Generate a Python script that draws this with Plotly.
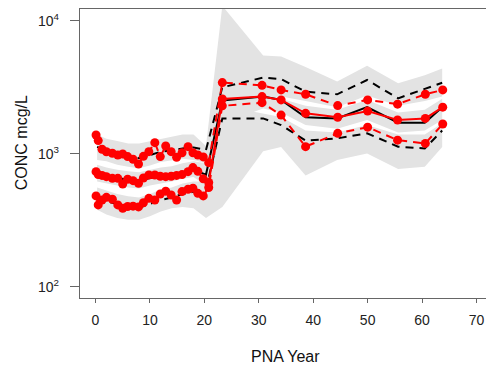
import plotly.graph_objects as go

# Observed concentration percentiles (5th, 50th, 95th) per PNA bin
obs_x = [0.1, 0.5, 1.2, 2.0, 3.1, 4.1, 5.0, 5.9, 6.9, 7.9, 8.8, 9.8, 10.9, 11.9,
         12.9, 13.9, 14.9, 15.9, 17.0, 17.9, 18.8, 19.8, 20.8,
         23.3, 30.6, 34.1, 38.6, 44.5, 50.0, 55.5, 60.6, 63.8]
obs_p95 = [1390, 1260, 1085, 1040, 1012, 983, 1000, 955, 912, 841, 960, 1041, 1216, 955,
           1148, 1041, 945, 1022, 1135, 1022, 983, 950, 860,
           3440, 3280, 3030, 2810, 2310, 2550, 2370, 2810, 3030]
obs_p50 = [736, 700, 690, 675, 656, 656, 595, 645, 630, 602, 660, 695, 695, 680,
           675, 680, 690, 700, 736, 790, 740, 650, 610,
           2590, 2700, 2550, 2020, 1890, 2100, 1800, 1850, 2250]
obs_p05 = [484, 414, 450, 472, 457, 414, 391, 403, 405, 400, 430, 464, 451, 500,
           525, 491, 451, 521, 543, 553, 506, 484, 560,
           2300, 2430, 1960, 1135, 1430, 1590, 1270, 1200, 1680]

# Simulated percentiles (median of simulations) per bin
sim_x = [0.3, 2, 4, 6, 8, 10, 12, 14, 16, 18, 20.3,
         23.3, 30.8, 34.1, 38.6, 44.4, 49.9, 55.6, 60.5, 63.7]
sim_p95 = [1130, 1060, 1000, 960, 930, 980, 1040, 1060, 1100, 1120, 1070,
           3170, 3750, 3650, 2940, 2810, 3600, 2620, 3060, 3430]
sim_p50 = [720, 690, 660, 640, 630, 660, 680, 700, 730, 760, 700,
           2520, 2700, 2550, 1890, 1850, 2250, 1720, 1720, 2250]
sim_p05 = [470, 440, 420, 400, 395, 420, 450, 470, 500, 520, 540,
           1850, 1850, 1650, 1260, 1310, 1430, 1135, 1100, 1500]

# Confidence intervals of the simulated percentiles
ci95_hi = [1400, 1300, 1250, 1200, 1200, 1250, 1300, 1350, 1400, 1400, 1150,
           13000, 5500, 5400, 4500, 3500, 4600, 3400, 3900, 4400]
ci95_lo = [900, 880, 830, 800, 780, 820, 870, 900, 920, 900, 850,
           2200, 2750, 2700, 2500, 2250, 2750, 2300, 2500, 2700]
ci50_hi = [830, 790, 760, 740, 730, 760, 790, 810, 850, 880, 850,
           3300, 3100, 2600, 2300, 2150, 2550, 2050, 2150, 2600]
ci50_lo = [620, 600, 580, 560, 550, 580, 600, 620, 650, 670, 580,
           1700, 2200, 2050, 1650, 1550, 1800, 1450, 1500, 1800]
ci05_hi = [560, 530, 500, 480, 470, 500, 540, 560, 600, 620, 620,
           2300, 2000, 1900, 1500, 1450, 1650, 1400, 1400, 1700]
ci05_lo = [380, 350, 330, 320, 320, 340, 370, 390, 400, 390, 330,
           400, 1050, 1130, 690, 900, 1010, 770, 800, 1130]

y_ticks = [100, 1000, 10000]
y_tick_text = ["10<sup>2</sup>", "10<sup>3</sup>", "10<sup>4</sup>"]
y_minor = [v * m for m in (100, 1000) for v in range(2, 10)]
x_ticks = [0, 10, 20, 30, 40, 50, 60, 70]

BAND = "#e3e3e3"
RED = "#ff0000"
AXIS = "#666"
FONT = "Liberation Sans, Arial, sans-serif"
X_RANGE = [-2.85, 71.75]
Y_RANGE = [1.917, 4.09]   # log10 limits of the concentration axis
PX_PER_X = 406 / (X_RANGE[1] - X_RANGE[0])

fig = go.Figure()

# shaded confidence bands
for lo, hi in ((ci95_lo, ci95_hi), (ci50_lo, ci50_hi), (ci05_lo, ci05_hi)):
    fig.add_trace(go.Scatter(
        x=sim_x + sim_x[::-1], y=hi + lo[::-1],
        mode="lines", fill="toself", fillcolor=BAND,
        line=dict(width=0, color=BAND), hoverinfo="skip", showlegend=False))

# simulated percentile lines
for ys, dashed in ((sim_p95, True), (sim_p50, False), (sim_p05, True)):
    fig.add_trace(go.Scatter(
        x=sim_x, y=ys, mode="lines",
        line=dict(color="black", width=2, dash="8px,6px" if dashed else "solid"),
        showlegend=False))

# observed percentile lines with points
for ys, dashed in ((obs_p95, True), (obs_p50, False), (obs_p05, True)):
    fig.add_trace(go.Scatter(
        x=obs_x, y=ys, mode="lines+markers",
        line=dict(color=RED, width=2, dash="8px,6px" if dashed else "solid"),
        marker=dict(color=RED, size=9, symbol="circle"),
        showlegend=False))

# minor tick marks (2..9 of each decade) just left of the y axis line
fig.add_trace(go.Scatter(
    x=[X_RANGE[0] - 2.6 / PX_PER_X] * len(y_minor), y=y_minor,
    mode="markers", cliponaxis=False, hoverinfo="skip", showlegend=False,
    marker=dict(symbol="line-ew", size=5, color=AXIS,
                line=dict(width=1, color=AXIS))))

fig.update_layout(
    width=486, height=367,
    margin=dict(l=80, r=0, t=9, b=69),
    paper_bgcolor="white", plot_bgcolor="white",
    font=dict(family=FONT, size=14, color="#222"),
    xaxis=dict(
        range=X_RANGE, tickvals=x_ticks,
        showline=True, linecolor=AXIS, linewidth=1.3, mirror=True,
        ticks="outside", ticklen=4, tickcolor=AXIS, tickwidth=1,
        showgrid=False, zeroline=False, ticklabelstandoff=5,
        tickfont=dict(size=14, color="#222")),
    yaxis=dict(
        type="log", range=Y_RANGE,
        tickvals=y_ticks, ticktext=y_tick_text,
        showline=True, linecolor=AXIS, linewidth=1.3,
        ticks="outside", ticklen=9, tickcolor=AXIS, tickwidth=1,
        showgrid=False, zeroline=False, ticklabelstandoff=8,
        tickfont=dict(size=14, color="#222")),
    annotations=[
        dict(text="PNA Year", xref="paper", yref="paper",
             x=0.507, y=-0.2007, xanchor="center", yanchor="middle",
             showarrow=False, font=dict(size=16, color="#111")),
        dict(text="CONC mcg/L", xref="paper", yref="paper",
             x=-0.145, y=0.536, xanchor="center", yanchor="middle",
             textangle=-90, showarrow=False, font=dict(size=16, color="#111")),
    ],
)

fig.write_html("out.html")
